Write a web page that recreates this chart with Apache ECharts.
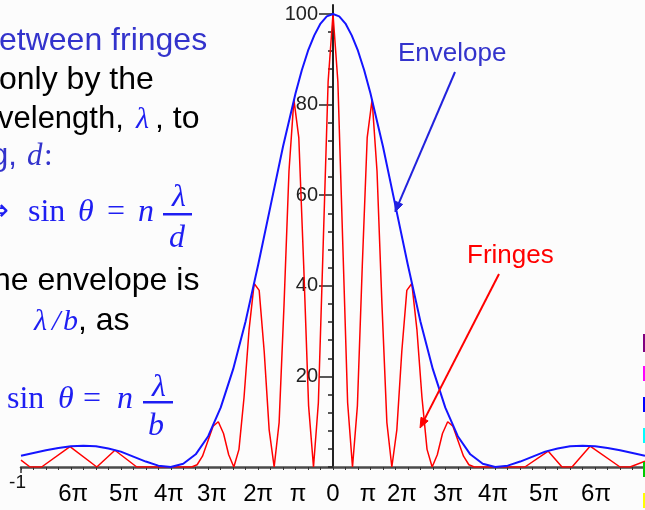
<!DOCTYPE html>
<html>
<head>
<meta charset="utf-8">
<script src="https://cdn.jsdelivr.net/npm/echarts@6/dist/echarts.min.js"></script>
<style>
  html, body { margin: 0; padding: 0; background: #fcfcfc; }
  #chart { width: 645px; height: 510px; }
</style>
</head>
<body>
<div id="chart"></div>
<script>
// Two-slit pattern versus angle theta (radians): single-slit envelope and fringes
const envelope = [
  [-1.00, 2.5], [-0.96, 3.1], [-0.92, 3.7], [-0.88, 4.2], [-0.84, 4.6], [-0.80, 4.7],
  [-0.76, 4.6], [-0.72, 4.1], [-0.68, 3.4], [-0.64, 2.3], [-0.60, 1.2], [-0.56, 0.3],
  [-0.52, 0.0], [-0.48, 0.7], [-0.44, 2.8], [-0.40, 6.8], [-0.36, 13.1], [-0.32, 21.6],
  [-0.28, 32.2], [-0.24, 44.6], [-0.20, 57.7], [-0.16, 70.8], [-0.12, 82.5], [-0.10, 87.6],
  [-0.08, 91.9], [-0.06, 95.3], [-0.04, 97.9], [-0.02, 99.5], [0.00, 100.0],
  [0.02, 99.5], [0.04, 97.9], [0.06, 95.3], [0.08, 91.9], [0.10, 87.6], [0.12, 82.5],
  [0.16, 70.8], [0.20, 57.7], [0.24, 44.6], [0.28, 32.2], [0.32, 21.6], [0.36, 13.1],
  [0.40, 6.8], [0.44, 2.8], [0.48, 0.7], [0.52, 0.0], [0.56, 0.3], [0.60, 1.2],
  [0.64, 2.3], [0.68, 3.4], [0.72, 4.1], [0.76, 4.6], [0.80, 4.7], [0.84, 4.6],
  [0.88, 4.2], [0.92, 3.7], [0.96, 3.1], [1.00, 2.5]
];

const fringes = [
  [-1.000, 1.5], [-0.971, 0], [-0.934, 0], [-0.843, 4.5], [-0.757, 0], [-0.699, 3.7],
  [-0.629, 0], [-0.4529, 0], [-0.4355, 0.5], [-0.4183, 2.4], [-0.4013, 5.7],
  [-0.3844, 9.0], [-0.3676, 10.0], [-0.3509, 7.4], [-0.3343, 2.7], [-0.3178, 0],
  [-0.3014, 3.9], [-0.2851, 15.4], [-0.2689, 30.4], [-0.2527, 40.5], [-0.2366, 39.0],
  [-0.2205, 25.5], [-0.2046, 8.2], [-0.1886, 0], [-0.1727, 9.8], [-0.1569, 35.9],
  [-0.1411, 65.3], [-0.1253, 81.1], [-0.1096, 72.7], [-0.0939, 44.5], [-0.0782, 13.5],
  [-0.0625, 0], [-0.0469, 14.2], [-0.0313, 49.4], [-0.0156, 85.1], [0.0000, 100.0],
  [0.0156, 85.1], [0.0313, 49.4], [0.0469, 14.2], [0.0625, 0], [0.0782, 13.5],
  [0.0939, 44.5], [0.1096, 72.7], [0.1253, 81.1], [0.1411, 65.3], [0.1569, 35.9],
  [0.1727, 9.8], [0.1886, 0], [0.2046, 8.2], [0.2205, 25.5], [0.2366, 39.0],
  [0.2527, 40.5], [0.2689, 30.4], [0.2851, 15.4], [0.3014, 3.9], [0.3178, 0],
  [0.3343, 2.7], [0.3509, 7.4], [0.3676, 10.0], [0.3844, 9.0], [0.4013, 5.7],
  [0.4183, 2.4], [0.4355, 0.5], [0.4529, 0], [0.615, 0], [0.690, 3.5], [0.734, 0],
  [0.766, 0], [0.824, 4.6], [0.920, 0], [0.952, 0], [1.000, 1.3]
];

// phase labels written under the angle axis
const phaseTickPos  = [-0.833, -0.670, -0.526, -0.388, -0.240, -0.112, 0, 0.112, 0.221, 0.369, 0.513, 0.676, 0.843];
const phaseTickText = ['6π', '5π', '4π', '3π', '2π', 'π', '0', 'π', '2π', '3π', '4π', '5π', '6π'];

const yLabelValues = [20, 40, 60, 80, 100];
const yMinorStep = 4;
const xMinorStep = 0.04;

const xMinorTicks = [];
for (let k = -25; k <= 25; k++) xMinorTicks.push(+(k * xMinorStep).toFixed(2));
const yMinorTicks = [];
for (let v = 0; v <= 100; v += yMinorStep) yMinorTicks.push(v);

const SANS = '"Liberation Sans", Arial, sans-serif';
const SERIF = '"Liberation Serif", "Times New Roman", serif';
const BLUE_TEXT = '#3333cc';
const BLUE_EQ = '#1e1ef2';

function txt(s, x, baseline, size, opts) {
  opts = opts || {};
  const serif = !!opts.serif;
  const family = opts.family || (serif ? SERIF : SANS);
  const k = serif ? 0.3375 : 0.3465;
  const align = opts.align || 'left';
  return {
    type: 'text', silent: true, z: 100,
    style: {
      text: s, x: x, y: baseline - k * size,
      font: (opts.italic ? 'italic ' : '') + size + 'px ' + family,
      fill: opts.color || '#000',
      align: align, verticalAlign: 'middle',
      textAlign: align, textVerticalAlign: 'middle'
    }
  };
}

function arrow(x1, y1, x2, y2, color, width) {
  const dx = x2 - x1, dy = y2 - y1;
  const len = Math.sqrt(dx * dx + dy * dy);
  const ux = dx / len, uy = dy / len;
  const hl = 10, hw = 4;
  const bx = x2 - ux * hl, by = y2 - uy * hl;
  return [
    { type: 'polyline', silent: true, z: 100,
      shape: { points: [[x1, y1], [bx, by]] },
      style: { stroke: color, lineWidth: width, fill: null } },
    { type: 'polygon', silent: true, z: 100,
      shape: { points: [[x2, y2], [bx - uy * hw, by + ux * hw], [bx + uy * hw, by - ux * hw]] },
      style: { fill: color, stroke: color, lineWidth: 1 } }
  ];
}

const graphics = [
  // left-hand explanatory text
  txt('etween fringes', -1, 52, 32, { color: BLUE_TEXT }),
  txt('only by the', -1, 91, 32),
  txt('velength, ', -2, 130, 31),
  txt('λ', 136, 130, 30, { serif: true, italic: true, color: BLUE_EQ }),
  txt(', to', 155, 130, 32),
  txt('g, ', -9, 167, 31, { color: BLUE_TEXT }),
  txt('d', 27, 167, 31, { serif: true, italic: true, color: BLUE_TEXT }),
  txt(':', 44, 167, 31, { serif: true, color: BLUE_TEXT }),

  // sin θ = n λ / d
  txt('⇒', 9, 223, 30, { family: '"DejaVu Sans", sans-serif', align: 'right', color: BLUE_EQ }),
  txt('sin', 28, 223, 32, { serif: true, color: BLUE_EQ }),
  txt('θ', 78, 223, 32, { serif: true, italic: true, color: BLUE_EQ }),
  txt('=', 107, 223, 32, { serif: true, color: BLUE_EQ }),
  txt('n', 138, 223, 32, { serif: true, italic: true, color: BLUE_EQ }),
  txt('λ', 179, 208, 32, { serif: true, italic: true, color: BLUE_EQ, align: 'center' }),
  { type: 'rect', silent: true, z: 100, shape: { x: 163, y: 213, width: 29, height: 2.5 }, style: { fill: BLUE_EQ } },
  txt('d', 177, 249, 32, { serif: true, italic: true, color: BLUE_EQ, align: 'center' }),

  txt('he envelope is', -7, 292, 32),
  txt('λ', 34, 332, 30, { serif: true, italic: true, color: BLUE_EQ }),
  txt('/', 52, 332, 30, { serif: true, italic: true, color: BLUE_EQ }),
  txt('b', 63, 332, 30, { serif: true, italic: true, color: BLUE_EQ }),
  txt(', as', 78, 332, 32),

  // sin θ = n λ / b
  txt('sin', 7, 410, 32, { serif: true, color: BLUE_EQ }),
  txt('θ', 58, 410, 32, { serif: true, italic: true, color: BLUE_EQ }),
  txt('=', 83, 410, 32, { serif: true, color: BLUE_EQ }),
  txt('n', 117, 410, 32, { serif: true, italic: true, color: BLUE_EQ }),
  txt('λ', 159, 398, 32, { serif: true, italic: true, color: BLUE_EQ, align: 'center' }),
  { type: 'rect', silent: true, z: 100, shape: { x: 143, y: 401, width: 30, height: 2.5 }, style: { fill: BLUE_EQ } },
  txt('b', 156, 437, 32, { serif: true, italic: true, color: BLUE_EQ, align: 'center' }),

  // curve annotations
  txt('Envelope', 398, 63, 26, { color: BLUE_TEXT }),
  txt('Fringes', 467, 265, 26, { color: '#ff0000' })
].concat(
  arrow(455, 72, 395, 212, '#2222dd', 2),
  arrow(499, 274, 420, 428, '#ff0000', 2),
  // colour strip along the right edge
  [
    ['#800080', 334, 18], ['#ff00ff', 366, 15], ['#0000ff', 397, 15],
    ['#00ffff', 428, 15], ['#00cc00', 462, 15], ['#ffff00', 493, 15]
  ].map(c => ({ type: 'rect', silent: true, z: 100,
    shape: { x: 643, y: c[1], width: 2, height: c[2] }, style: { fill: c[0] } }))
);

function phaseLabel(v) {
  let best = 0;
  for (let i = 1; i < phaseTickPos.length; i++) {
    if (Math.abs(phaseTickPos[i] - v) < Math.abs(phaseTickPos[best] - v)) best = i;
  }
  return phaseTickText[best];
}

const GRID_LEFT = 21, GRID_WIDTH = 624;
const gridBox = { left: GRID_LEFT, width: GRID_WIDTH, top: 5, bottom: 43,
  containLabel: false, outerBoundsMode: 'none' };
// shift the vertical axis from the grid edge to theta = 0
const yAxisShift = -GRID_WIDTH / 2;

const option = {
  animation: false,
  backgroundColor: '#fcfcfc',
  grid: [Object.assign({}, gridBox), Object.assign({}, gridBox)],
  xAxis: [
    {
      gridIndex: 0, type: 'value', min: -1, max: 1, position: 'bottom',
      axisLine: { onZero: false, lineStyle: { color: '#4a4a4a', width: 2.5 } },
      axisTick: { show: true, customValues: xMinorTicks, length: 3, lineStyle: { color: '#333', width: 1 } },
      axisLabel: {
        show: true, customValues: phaseTickPos, formatter: phaseLabel,
        margin: 15, fontSize: 24, fontFamily: SANS, color: '#000', hideOverlap: false
      },
      splitLine: { show: false }
    },
    {
      gridIndex: 1, type: 'value', min: -1, max: 1, position: 'bottom',
      axisLine: { show: false, onZero: false },
      axisTick: { show: true, customValues: [-1], length: 6, lineStyle: { color: '#333', width: 1.5 } },
      axisLabel: {
        show: true, customValues: [-1], formatter: () => '{m|-1}',
        margin: 6, rich: { m: { fontSize: 19, fontFamily: SANS, color: '#111', padding: [0, 7, 0, 0] } }
      },
      splitLine: { show: false }
    }
  ],
  yAxis: [
    {
      gridIndex: 0, type: 'value', min: 0, max: 102, position: 'left', offset: yAxisShift,
      axisLine: { onZero: false, lineStyle: { color: '#222', width: 2 } },
      axisTick: { show: true, customValues: yLabelValues, length: 14, lineStyle: { color: '#222', width: 1.5 } },
      axisLabel: {
        show: true, customValues: yLabelValues, margin: 15,
        fontSize: 20, fontFamily: SANS, color: '#222'
      },
      splitLine: { show: false }
    },
    {
      gridIndex: 1, type: 'value', min: 0, max: 102, position: 'left', offset: yAxisShift,
      axisLine: { show: false, onZero: false },
      axisTick: { show: true, customValues: yMinorTicks, length: 5, lineStyle: { color: '#222', width: 1.5 } },
      axisLabel: { show: false },
      splitLine: { show: false }
    }
  ],
  series: [
    {
      name: 'Fringes', type: 'line', xAxisIndex: 0, yAxisIndex: 0,
      data: fringes, showSymbol: false, smooth: false, z: 3,
      lineStyle: { color: '#ff0000', width: 1.5 }
    },
    {
      name: 'Envelope', type: 'line', xAxisIndex: 0, yAxisIndex: 0,
      data: envelope, showSymbol: false, smooth: false, z: 4,
      lineStyle: { color: '#1414ff', width: 2 }
    }
  ],
  graphic: graphics
};

const chart = echarts.init(document.getElementById('chart'), null, { renderer: 'canvas' });
chart.setOption(option);
</script>
</body>
</html>
